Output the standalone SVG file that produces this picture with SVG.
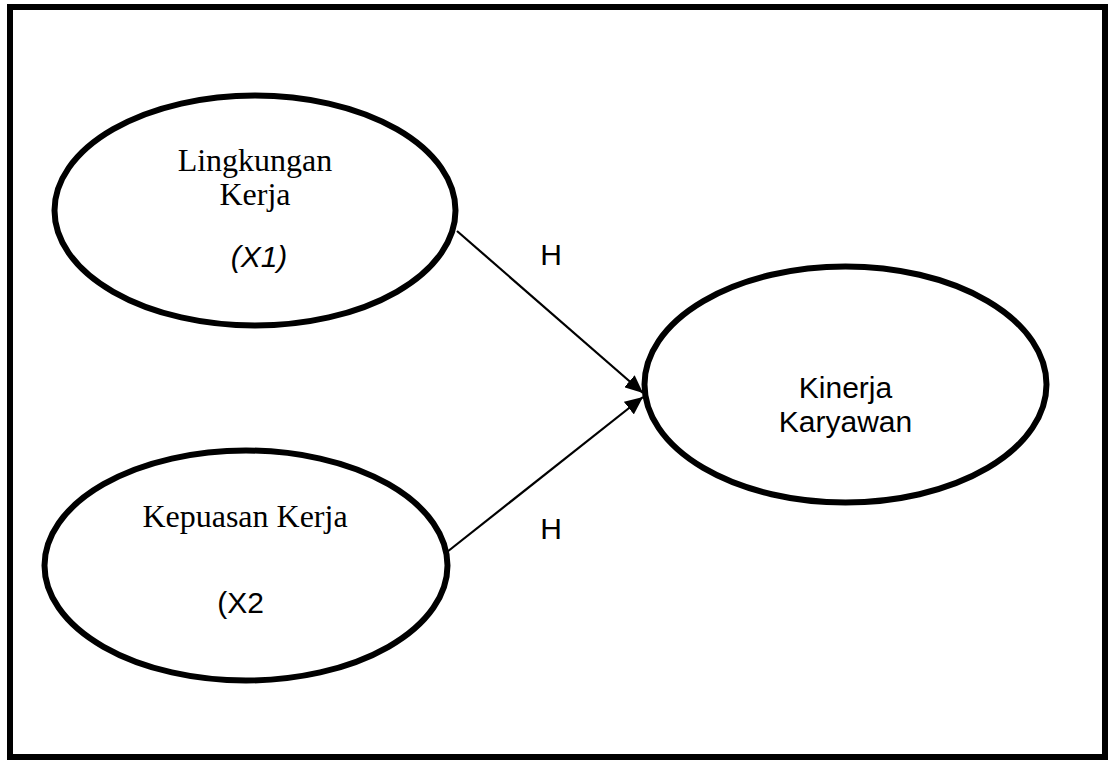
<svg xmlns="http://www.w3.org/2000/svg" width="1109" height="760" viewBox="0 0 1109 760">
<style>
.node{fill:#fff;stroke:#000;stroke-width:6}
.serif{font-family:"Liberation Serif","Times New Roman",serif;font-size:32px;fill:#000;text-anchor:middle}
.sans{font-family:"Liberation Sans",Arial,sans-serif;font-size:30px;fill:#000;text-anchor:middle}
.edge{stroke:#000;stroke-width:2.2;fill:none}
</style>
<defs>
<marker id="arrow" markerUnits="userSpaceOnUse" markerWidth="20" markerHeight="16" refX="18" refY="8" orient="auto">
<path d="M0,0 L18,8 L0,16 Z" fill="#000"/>
</marker>
</defs>
<rect x="0" y="0" width="1109" height="760" fill="#fff"/>
<rect id="frame" x="10" y="7" width="1095" height="750" fill="none" stroke="#000" stroke-width="6"/>
<g id="connectors">
<line class="edge" x1="457" y1="231" x2="643" y2="393" marker-end="url(#arrow)"/>
<line class="edge" x1="447" y1="552" x2="643" y2="397" marker-end="url(#arrow)"/>
<text class="sans" x="551" y="265">H</text>
<text class="sans" x="551" y="539">H</text>
</g>
<g id="node-x1">
<ellipse class="node" cx="255" cy="210.5" rx="200.5" ry="115"/>
<text class="serif" x="255" y="171">Lingkungan</text>
<text class="serif" x="255" y="205">Kerja</text>
<text class="sans" x="259" y="267" font-style="italic" font-size="29">(X1)</text>
</g>
<g id="node-x2">
<ellipse class="node" cx="246" cy="565.5" rx="201.5" ry="115"/>
<text class="serif" x="245" y="527">Kepuasan Kerja</text>
<text class="sans" x="240.5" y="613" font-size="29">(X2</text>
</g>
<g id="node-y">
<ellipse class="node" cx="845.5" cy="384.5" rx="201" ry="118"/>
<text class="sans" x="845.5" y="398" font-size="31">Kinerja</text>
<text class="sans" x="845.5" y="432" font-size="31">Karyawan</text>
</g>
</svg>
